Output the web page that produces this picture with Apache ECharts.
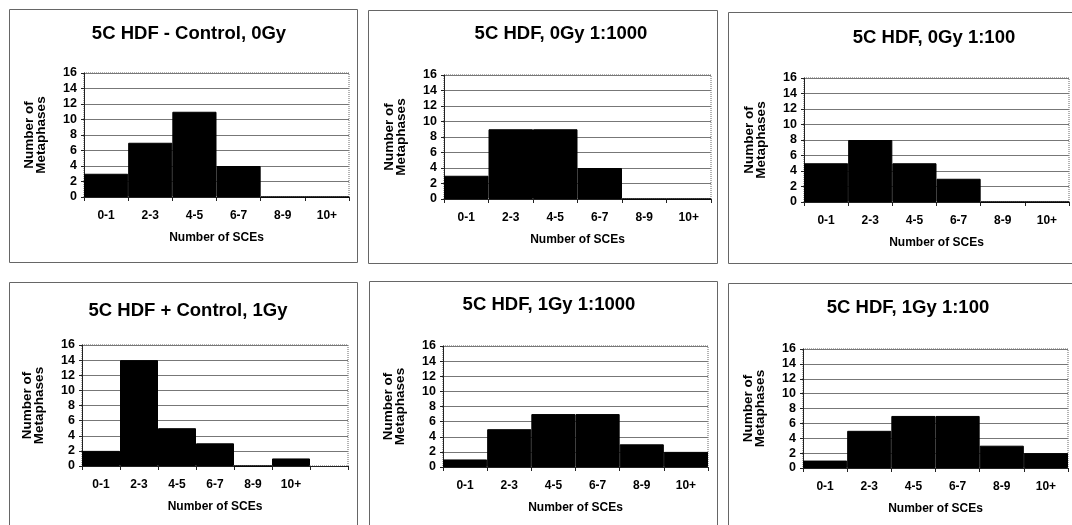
<!DOCTYPE html>
<html>
<head>
<meta charset="utf-8">
<script src="https://cdn.jsdelivr.net/npm/echarts@6/dist/echarts.min.js"></script>
<style>
html,body{margin:0;padding:0;background:#fff;}
#c{width:1072px;height:525px;}
</style>
</head>
<body>
<div id="c"></div>
<script>
// ---- data ----
const categories = ['0-1', '2-3', '4-5', '6-7', '8-9', '10+'];
const categoriesP4 = ['0-1', '2-3', '4-5', '6-7', '8-9', '10+', ''];
const titles = [
  '5C HDF - Control, 0Gy',
  '5C HDF, 0Gy 1:1000',
  '5C HDF, 0Gy 1:100',
  '5C HDF + Control, 1Gy',
  '5C HDF, 1Gy 1:1000',
  '5C HDF, 1Gy 1:100'
];
const control0Gy = [3, 7, 11, 4, 0, 0];
const dose0Gy1000 = [3, 9, 9, 4, 0, 0];
const dose0Gy100 = [5, 8, 5, 3, 0, 0];
const control1Gy = [2, 14, 5, 3, 0, 1, null];
const dose1Gy1000 = [1, 5, 7, 7, 3, 2];
const dose1Gy100 = [1, 5, 7, 7, 3, 2];
const yTicks = { min: 0, max: 16, interval: 2 };
const xAxisTitle = 'Number of SCEs';
const yAxisTitle = 'Number of\nMetaphases';

const seriesData = [control0Gy, dose0Gy1000, dose0Gy100, control1Gy, dose1Gy1000, dose1Gy100];
const seriesCats = [categories, categories, categories, categoriesP4, categories, categories];

// ---- layout (pixels) ----
const panels = [
  { box: [9, 9, 357, 262],   plot: [84, 73, 349, 197],  title: [184, 33] },
  { box: [368, 10, 717, 263], plot: [444, 75, 711, 199], title: [556, 33] },
  { box: [728, 12, 1075, 263], plot: [804, 78, 1069, 202], title: [929, 37] },
  { box: [9, 282, 357, 530],  plot: [82, 345, 348, 466], title: [183, 310] },
  { box: [369, 281, 717, 530], plot: [443, 346, 708, 467], title: [544, 304] },
  { box: [728, 283, 1075, 530], plot: [803, 349, 1068, 468], title: [903, 307] }
];

const FONT = '"Liberation Sans", Arial, sans-serif';
const chart = echarts.init(document.getElementById('c'), null, { renderer: 'canvas' });

const grid = [], xAxis = [], yAxis = [], series = [], title = [], graphic = [];
panels.forEach((p, i) => {
  const [l, t, r, b] = p.plot;
  grid.push({ left: l, top: t, width: r - l, height: b - t, show: true,
    borderColor: '#666', borderWidth: 1, borderType: 'dotted', backgroundColor: 'transparent' });
  xAxis.push({
    type: 'category', gridIndex: i, data: seriesCats[i], boundaryGap: true,
    axisLine: { lineStyle: { color: '#222', width: 1 } },
    axisTick: { show: true, length: 4, inside: false, lineStyle: { color: '#222' } },
    axisLabel: { color: '#000', fontFamily: FONT, fontWeight: 'bold', fontSize: 12, margin: 13, interval: 0 },
    name: xAxisTitle, nameLocation: 'middle', nameGap: 35,
    nameTextStyle: { color: '#000', fontFamily: FONT, fontWeight: 'bold', fontSize: 12 }
  });
  yAxis.push({
    type: 'value', gridIndex: i, min: yTicks.min, max: yTicks.max, interval: yTicks.interval,
    axisLine: { show: true, lineStyle: { color: '#222', width: 1 } },
    axisTick: { show: true, length: 3, lineStyle: { color: '#222' } },
    splitLine: { show: true, lineStyle: { color: '#777', width: 1 } },
    axisLabel: { color: '#000', fontFamily: FONT, fontWeight: 'bold', fontSize: 12.5, margin: 7 },
    name: yAxisTitle, nameLocation: 'middle', nameGap: 36, nameRotate: 90,
    nameTextStyle: { color: '#000', fontFamily: FONT, fontWeight: 'bold', fontSize: 13.5, lineHeight: 12.5 }
  });
  series.push({
    type: 'bar', xAxisIndex: i, yAxisIndex: i, data: seriesData[i],
    barWidth: '100%', barGap: '0%', barCategoryGap: '0%',
    itemStyle: { color: '#000', borderColor: '#000', borderWidth: 1 },
    silent: true
  });
  title.push({
    text: titles[i], left: p.title[0], top: p.title[1] - 4, textAlign: 'center', textVerticalAlign: 'middle',
    textStyle: { color: '#000', fontFamily: FONT, fontWeight: 'bold', fontSize: 18.5 }
  });
  const [bl, bt, br, bb] = p.box;
  graphic.push({
    type: 'rect', shape: { x: bl + 0.5, y: bt + 0.5, width: br - bl, height: bb - bt },
    style: { fill: 'none', stroke: '#666', lineWidth: 1 }, silent: true, z: -1
  });
});

chart.setOption({
  animation: false,
  backgroundColor: '#fff',
  title, grid, xAxis, yAxis, series, graphic
});
</script>
</body>
</html>
